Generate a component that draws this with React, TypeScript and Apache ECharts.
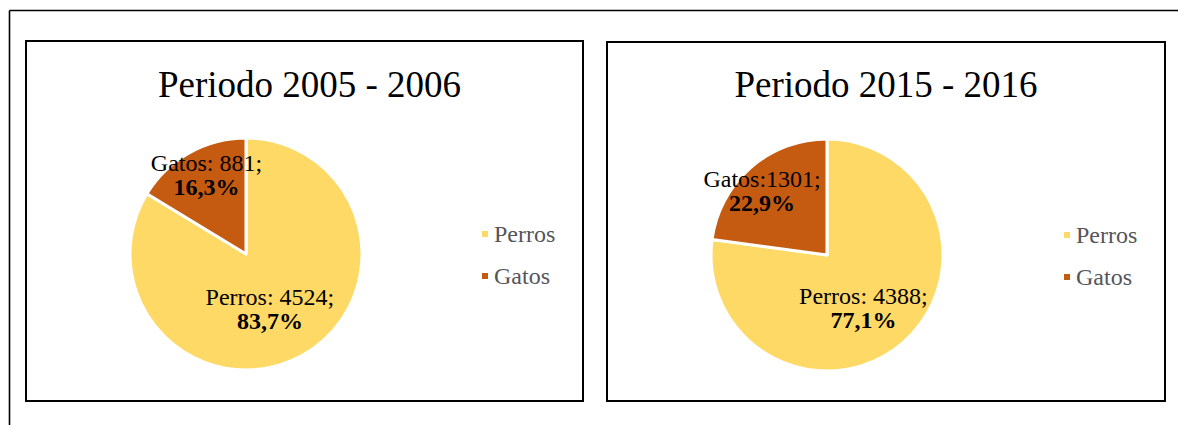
import React, { useEffect, useRef } from "react";
import * as echarts from "echarts";

const categories = ["Perros", "Gatos"];
const periodTitles = ["Periodo 2005 - 2006", "Periodo 2015 - 2016"];
const values2005 = [4524, 881];
const values2015 = [4388, 1301];
const labelSeparators2005 = [": ", ": "];
const labelSeparators2015 = [": ", ":"];

const COLORS = ["#FFD966", "#C55A11"];
const FONT = "Liberation Serif";

const panels = [
  {
    title: periodTitles[0],
    values: values2005,
    seps: labelSeparators2005,
    box: { x: 26, y: 41, width: 557, height: 360 },
    titlePos: [309.5, 84],
    center: [246, 254],
    legendPos: [480, 222],
    offsets: [[-6, 1.5], [-9.6, -26]],
  },
  {
    title: periodTitles[1],
    values: values2015,
    seps: labelSeparators2015,
    box: { x: 607, y: 42, width: 558, height: 359 },
    titlePos: [886, 84],
    center: [827, 255],
    legendPos: [1062, 223],
    offsets: [[-3.7, 7.3], [-24.8, -17.8]],
  },
];

function pct(v: number, total: number) {
  return ((v / total) * 100).toFixed(1).replace(".", ",") + "%";
}

export default function App() {
  const ref = useRef<HTMLDivElement>(null);
  useEffect(() => {
    if (!ref.current) return;
    const chart = echarts.init(ref.current, null, { renderer: "svg" });
    const graphic: any[] = [
      { type: "line", shape: { x1: 9.5, y1: 10.5, x2: 1178, y2: 10.5 }, style: { stroke: "#000", lineWidth: 1.6 } },
      { type: "line", shape: { x1: 9.5, y1: 10.5, x2: 9.5, y2: 425 }, style: { stroke: "#000", lineWidth: 1.6 } },
    ];
    const series: any[] = [];
    const legend: any[] = [];
    const labelTexts = new Set<string>();
    panels.forEach((p) => {
      graphic.push({
        type: "rect",
        shape: p.box,
        style: { fill: "none", stroke: "#000", lineWidth: 2 },
      });
      graphic.push({
        type: "text",
        x: p.titlePos[0],
        y: p.titlePos[1],
        style: {
          text: p.title,
          font: `37px "${FONT}"`,
          fill: "#000",
          textAlign: "center",
          textVerticalAlign: "middle",
        },
      });
      const total = p.values.reduce((a, b) => a + b, 0);
      categories.forEach((c, k) => {
        labelTexts.add(`${c}${p.seps[k]}${p.values[k]};`);
        labelTexts.add(pct(p.values[k], total));
      });
      series.push({
        type: "pie",
        silent: true,
        center: p.center,
        radius: 116,
        startAngle: 90,
        clockwise: true,
        itemStyle: { borderColor: "#fff", borderWidth: 3 },
        labelLine: { show: false },
        label: {
          show: true,
          position: "inside",
          fontFamily: FONT,
          fontSize: 24,
          formatter: (params: any) => {
            const k = params.dataIndex;
            return `{a|${categories[k]}${p.seps[k]}${p.values[k]};}\n{b|${pct(p.values[k], total)}}`;
          },
          rich: {
            a: { fontFamily: FONT, fontSize: 24 },
            b: { fontFamily: FONT, fontWeight: "bold", fontSize: 24 },
          },
        },
        data: categories.map((c, k) => ({
          name: c,
          value: p.values[k],
          itemStyle: { color: COLORS[k] },
          label: { offset: p.offsets[k] },
        })),
      });
      legend.push({
        data: categories,
        orient: "vertical",
        left: p.legendPos[0],
        top: p.legendPos[1],
        padding: 0,
        itemWidth: 8,
        itemHeight: 8,
        itemGap: 18,
        icon: "rect",
        selectedMode: false,
        textStyle: { fontFamily: FONT, fontSize: 24 },
      });
    });
    chart.setOption({ animation: false, backgroundColor: "#fff", legend, series, graphic });

    // slice labels: plain black text, no automatic outline
    const zr: any = chart.getZr();
    zr.storage.getDisplayList(true).forEach((el: any) => {
      const st = el.style;
      if (!st || typeof st.text !== "string" || !labelTexts.has(st.text)) return;
      st.fill = "#000";
      st.stroke = null;
      st.lineWidth = 0;
      if (el.markRedraw) el.markRedraw();
    });
    zr.refreshImmediately();
    return () => chart.dispose();
  }, []);
  return (
    <div
      ref={ref}
      style={{ position: "absolute", left: 0, top: 0, width: 1178, height: 425 }}
    />
  );
}
